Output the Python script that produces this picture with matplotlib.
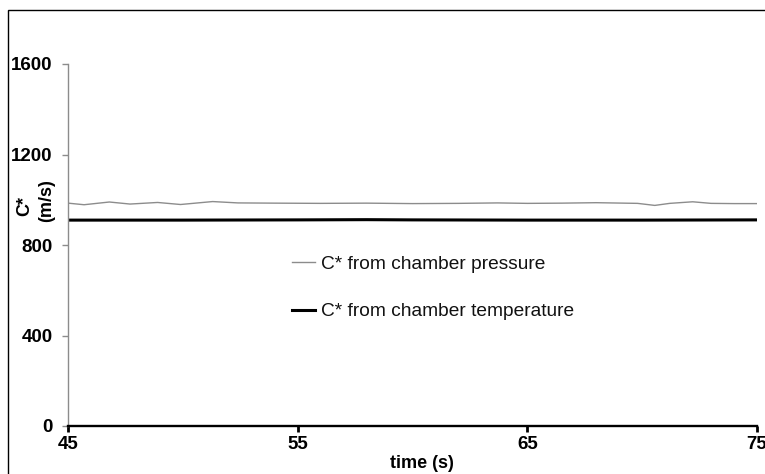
import matplotlib
matplotlib.use("Agg")
import matplotlib.pyplot as plt
from matplotlib.patches import Rectangle

plt.rcParams['font.family'] = ['Liberation Sans', 'DejaVu Sans']

# Data
t_pressure = [45.0, 45.7, 46.8, 47.7, 48.9, 49.9, 51.3, 52.4, 54.0, 56.0, 58.0, 60.0,
              62.0, 63.7, 65.0, 66.5, 68.0, 69.8, 70.55, 71.2, 72.2, 73.0, 74.0, 75.0]
c_pressure = [985, 978, 990, 981, 988, 979, 992, 986, 985, 984, 985, 983,
              984, 986, 984, 985, 987, 984, 975, 984, 991, 984, 983, 983]
t_temperature = [45, 50, 55, 58, 60, 65, 70, 75]
c_temperature = [910, 910, 911, 912, 911, 910, 910, 911]

x_ticks = [45, 55, 65, 75]
y_ticks = [0, 400, 800, 1200, 1600]
label_pressure = "C* from chamber pressure"
label_temperature = "C* from chamber temperature"

W, H = 765, 474
fig = plt.figure(figsize=(W / 100, H / 100), dpi=100)
ax = fig.add_axes([68 / W, 1 - 426 / H, (757 - 68) / W, (426 - 64) / H])

ax.plot(t_pressure, c_pressure, color='#8c8c8c', lw=1.0, label=label_pressure)
ax.plot(t_temperature, c_temperature, color='black', lw=2.2, label=label_temperature)

ax.set_xlim(45, 75)
ax.set_ylim(0, 1600)
ax.set_xticks(x_ticks)
ax.set_yticks(y_ticks)
ax.set_xticklabels([str(v) for v in x_ticks], fontsize=13.5, fontweight='bold')
ax.set_yticklabels([str(v) for v in y_ticks], fontsize=13.5, fontweight='bold')

for s in ['top', 'right']:
    ax.spines[s].set_visible(False)
ax.spines['left'].set_color('#8c8c8c')
ax.spines['left'].set_linewidth(1.0)
ax.spines['bottom'].set_color('black')
ax.spines['bottom'].set_linewidth(1.7)
ax.tick_params(axis='y', direction='out', length=4, width=1.0, color='#8c8c8c', pad=7)
ax.tick_params(axis='x', direction='out', length=4, width=2.0, color='black', pad=3)

leg = ax.legend(loc='center left', bbox_to_anchor=(292 / W, 1 - 288 / H),
                bbox_transform=fig.transFigure, frameon=False, fontsize=13.8,
                handlelength=1.2, handletextpad=0.3, labelspacing=1.55,
                borderpad=0, borderaxespad=0)
for txt in leg.get_texts():
    txt.set_color('#111111')

# Axis labels
fig.text(25 / W, 1 - 206 / H, "C*", rotation=90, fontsize=13, fontweight='bold',
         ha='center', va='center')
fig.text(47 / W, 1 - 201 / H, "(m/s)", rotation=90, fontsize=13, fontweight='bold',
         ha='center', va='center')
fig.text(422 / W, 1 - 463 / H, "time (s)", fontsize=13, fontweight='bold',
         ha='center', va='center')

# Outer frame
fig.add_artist(Rectangle((8 / W, -0.1), 1.2, 1.1 - 10 / H, transform=fig.transFigure,
                         fill=False, edgecolor='black', lw=1.0))

fig.savefig("out.png", dpi=100)
